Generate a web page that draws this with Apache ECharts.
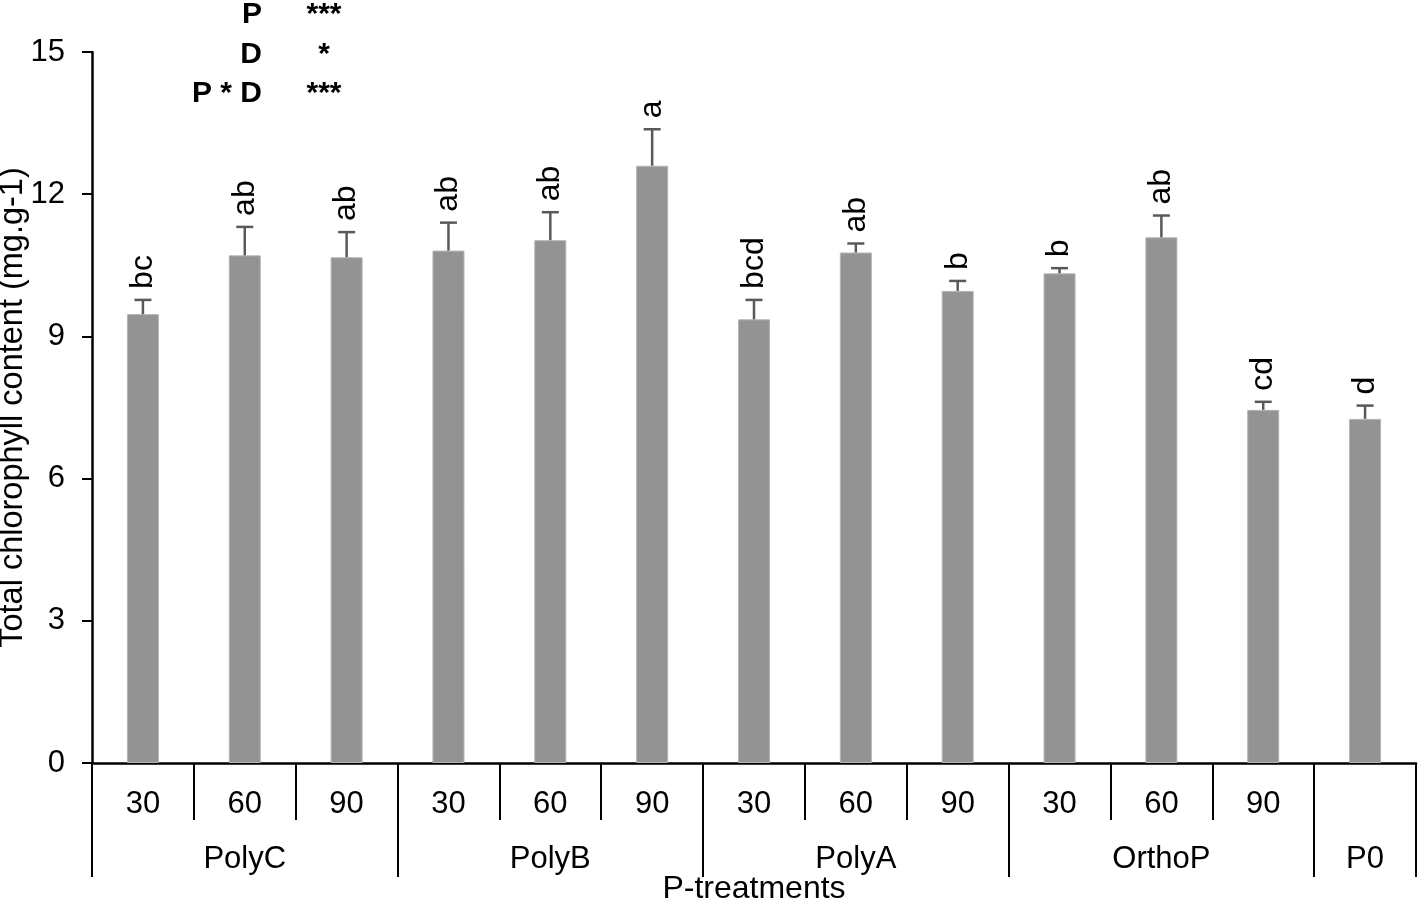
<!DOCTYPE html>
<html>
<head>
<meta charset="utf-8">
<script src="https://cdn.jsdelivr.net/npm/echarts@6/dist/echarts.min.js"></script>
<style>
  html, body { margin: 0; padding: 0; background: #fff; }
  #chart { width: 1423px; height: 908px; }
</style>
</head>
<body>
<div id="chart"></div>
<script>
// ---- data ----
const doseLabels = ['30', '60', '90', '30', '60', '90', '30', '60', '90', '30', '60', '90', ''];
const groupLabels = ['PolyC', 'PolyC', 'PolyC', 'PolyB', 'PolyB', 'PolyB', 'PolyA', 'PolyA', 'PolyA', 'OrthoP', 'OrthoP', 'OrthoP', 'P0'];
const groupStarts = [0, 3, 6, 9, 12];
const groupLabelAt = [1, 4, 7, 10, 12];
const meanValues = [9.47, 10.71, 10.67, 10.81, 11.03, 12.60, 9.36, 10.77, 9.96, 10.33, 11.09, 7.45, 7.26];
const errValues = [0.30, 0.60, 0.53, 0.59, 0.59, 0.77, 0.41, 0.19, 0.21, 0.11, 0.46, 0.17, 0.28];
const letters = ['bc', 'ab', 'ab', 'ab', 'ab', 'a', 'bcd', 'ab', 'b', 'b', 'ab', 'cd', 'd'];
const yTicks = { min: 0, max: 15, interval: 3 };
const effectNames = ['P', 'D', 'P * D'];
const effectSig = ['***', '*', '***'];

const FONT = "'Liberation Sans', Arial, sans-serif";
const chart = echarts.init(document.getElementById('chart'), null, { renderer: 'canvas' });

const errData = meanValues.map((v, i) => [i, v, errValues[i]]);

const graphics = [];
const rowY = [14.5, 54.5, 93.5];
effectNames.forEach((n, i) => {
  graphics.push({ type: 'text', x: 262, y: rowY[i],
    style: { text: n, font: 'bold 30px ' + FONT, fill: '#000', align: 'right', verticalAlign: 'middle' } });
  graphics.push({ type: 'text', x: 324, y: rowY[i],
    style: { text: effectSig[i], font: 'bold 30px ' + FONT, fill: '#000', align: 'center', verticalAlign: 'middle' } });
});

const option = {
  animation: false,
  backgroundColor: '#fff',
  textStyle: { fontFamily: FONT },
  grid: { left: 92, right: 7, top: 52, bottom: 145, containLabel: false, outerBoundsMode: 'none' },
  xAxis: [
    {
      type: 'category',
      data: doseLabels,
      position: 'bottom',
      boundaryGap: true,
      axisLine: { show: true, lineStyle: { color: '#000', width: 2.5 } },
      axisTick: { show: true, interval: 0, length: 57, alignWithLabel: false, lineStyle: { color: '#000', width: 2 } },
      axisLabel: { interval: 0, margin: 26, fontSize: 31, color: '#000', fontFamily: FONT },
      name: 'P-treatments',
      nameLocation: 'middle',
      nameGap: 110,
      nameMoveOverlap: false,
      nameTextStyle: { fontSize: 32, color: '#000', fontFamily: FONT }
    },
    {
      type: 'category',
      data: groupLabels,
      position: 'bottom',
      offset: 57,
      boundaryGap: true,
      axisLine: { show: false },
      axisTick: { show: true, length: 57, alignWithLabel: false,
        interval: (idx) => groupStarts.indexOf(idx) >= 0,
        lineStyle: { color: '#000', width: 2 } },
      axisLabel: { margin: 24, fontSize: 31, color: '#000', fontFamily: FONT,
        interval: (idx) => groupLabelAt.indexOf(idx) >= 0 }
    }
  ],
  yAxis: {
    type: 'value',
    min: yTicks.min, max: yTicks.max, interval: yTicks.interval,
    axisLine: { show: true, lineStyle: { color: '#000', width: 2.5 } },
    axisTick: { show: true, length: 10, inside: false, lineStyle: { color: '#000', width: 2 } },
    axisLabel: { margin: 27, fontSize: 31, color: '#000', fontFamily: FONT },
    splitLine: { show: false },
    name: 'Total chlorophyll content (mg.g-1)',
    nameLocation: 'middle',
    nameGap: 62,
    nameMoveOverlap: false,
    nameTextStyle: { fontSize: 32.5, color: '#000', fontFamily: FONT }
  },
  series: [
    {
      type: 'bar',
      xAxisIndex: 0,
      data: meanValues,
      barWidth: 32,
      itemStyle: { color: '#939393', borderColor: '#b4b4b4', borderWidth: 1 },
      z: 2
    },
    {
      type: 'custom',
      xAxisIndex: 0,
      data: errData,
      z: 3,
      renderItem: function (params, api) {
        const i = api.value(0), v = api.value(1), e = api.value(2);
        const base = api.coord([i, v]);
        const top = api.coord([i, v + e]);
        const hw = 8.5;
        const st = { stroke: '#595959', lineWidth: 2.5 };
        return {
          type: 'group',
          children: [
            { type: 'line', shape: { x1: base[0], y1: base[1], x2: top[0], y2: top[1] }, style: st },
            { type: 'line', shape: { x1: top[0] - hw, y1: top[1], x2: top[0] + hw, y2: top[1] }, style: st },
            { type: 'text', x: top[0], y: top[1] - 11, rotation: Math.PI / 2,
              style: { text: letters[params.dataIndex], font: '32px ' + FONT, fill: '#000', align: 'left', verticalAlign: 'middle' } }
          ]
        };
      }
    }
  ],
  graphic: graphics
};
chart.setOption(option);
</script>
</body>
</html>
